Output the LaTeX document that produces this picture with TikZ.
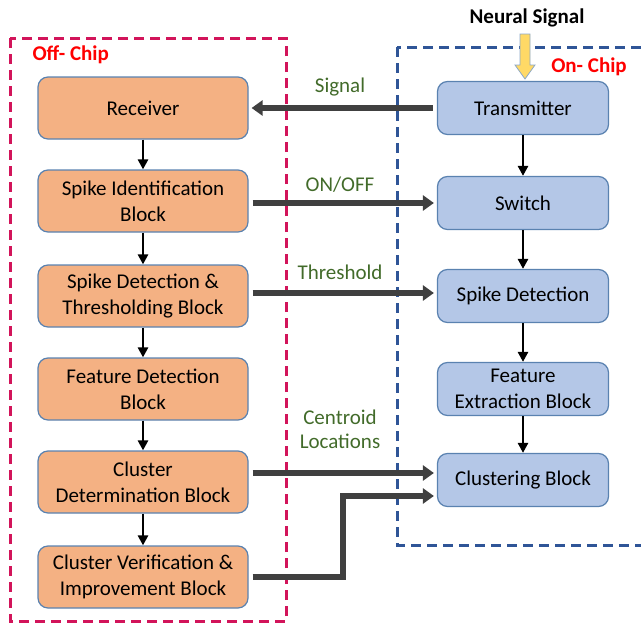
\documentclass[tikz,border=0pt]{standalone}
\usepackage{fontspec}
\setmainfont{Carlito}
\usepackage{xcolor}
\usetikzlibrary{arrows.meta}

\definecolor{offfill}{HTML}{F4B183}
\definecolor{onfill}{HTML}{B4C7E7}
\definecolor{boxline}{HTML}{5A82B0}
\definecolor{offred}{HTML}{D2145A}
\definecolor{onblue}{HTML}{2F5597}
\definecolor{lblgreen}{HTML}{426B2A}
\definecolor{fatgray}{HTML}{404040}
\definecolor{sigyellow}{HTML}{FFD966}

\begin{document}
\begin{tikzpicture}[
    x=1pt, y=-1pt,
    offbox/.style={draw=boxline, line width=1.2pt, fill=offfill, rounded corners=10pt, minimum width=210pt, minimum height=62pt, align=center, font=\fontsize{21}{26}\selectfont},
    onbox/.style={draw=boxline, line width=1.2pt, fill=onfill, rounded corners=10pt, minimum width=171pt, minimum height=53pt, align=center, font=\fontsize{21}{26}\selectfont},
    arr/.style={-{Triangle[length=10pt,width=10pt]}, line width=2.5pt, black},
    fat/.style={-{Triangle[length=11pt,width=15pt]}, line width=6pt, fatgray, shorten >=3pt, shorten <=4pt},
    lbl/.style={text=lblgreen, align=center, font=\fontsize{21}{24}\selectfont}
]
    \useasboundingbox (0,0) rectangle (641,624);

    % Chip borders
    \draw[offred, line width=3pt, dash pattern=on 10pt off 6pt] (10,38) rectangle (286,621);
    \draw[onblue, line width=3pt, dash pattern=on 10pt off 6pt] (397,47) rectangle (645,545);
    \node[anchor=west, text=red, font=\fontsize{21}{22}\selectfont\bfseries] (offlbl) at (29,55) {Off- Chip};
    \node[text=red, font=\fontsize{21}{22}\selectfont\bfseries] (onlbl) at (589,67) {On- Chip};

    % Off-chip
    \node[offbox] (recv) at (143,108) {Receiver};
    \node[offbox] (spkid) at (143,201) {Spike Identification\\Block};
    \node[offbox] (spkthr) at (143,296) {Spike Detection \&\\Thresholding Block};
    \node[offbox] (featdet) at (143,389) {Feature Detection\\Block};
    \node[offbox] (clusdet) at (143,482) {Cluster\\Determination Block};
    \node[offbox] (clusver) at (143,577) {Cluster Verification \&\\Improvement Block};

    % On-chip
    \node[font=\fontsize{21}{22}\selectfont\bfseries] (neural) at (527,18) {Neural Signal};
    \node[onbox] (tx) at (523,108) {Transmitter};
    \node[onbox] (sw) at (523,203) {Switch};
    \node[onbox] (spkdet) at (523,296) {Spike Detection};
    \node[onbox] (featext) at (523,389) {Feature\\Extraction Block};
    \node[onbox] (clust) at (523,480) {Clustering Block};

    % Neural signal input
    \draw[draw=boxline!70, line width=0.8pt, fill=sigyellow]
        (520,34) -- (530,34) -- (530,65) -- (535,65) -- (525,79) -- (515,65) -- (520,65) -- cycle;

    % Vertical flow
    \draw[arr] (recv) -- (spkid);
    \draw[arr] (spkid) -- (spkthr);
    \draw[arr] (spkthr) -- (featdet);
    \draw[arr] (featdet) -- (clusdet);
    \draw[arr] (clusdet) -- (clusver);
    \draw[arr] (tx) -- (sw);
    \draw[arr] (sw) -- (spkdet);
    \draw[arr] (spkdet) -- (featext);
    \draw[arr] (featext) -- (clust);

    % Links between chips
    \draw[fat] (tx.west) -- (recv.east);
    \draw[fat] (spkid.east |- sw) -- (sw.west);
    \draw[fat] ([yshift=3pt]spkthr.east) -- ([yshift=3pt]spkthr.east -| spkdet.west);
    \draw[fat] ([yshift=9pt]clusdet.east) -- ([yshift=9pt]clusdet.east -| clust.west);
    \coordinate (elbow) at (343,496);
    \draw[fat] (clusver.east) -| (elbow) -- (elbow -| clust.west);

    % Link labels
    \node[lbl] (lsig) at (340,87) {Signal};
    \node[lbl] (lonoff) at (340,185) {ON/OFF};
    \node[lbl] (lthr) at (340,272) {Threshold};
    \node[lbl] (lcent) at (340,429) {Centroid\\Locations};
\end{tikzpicture}
\end{document}
